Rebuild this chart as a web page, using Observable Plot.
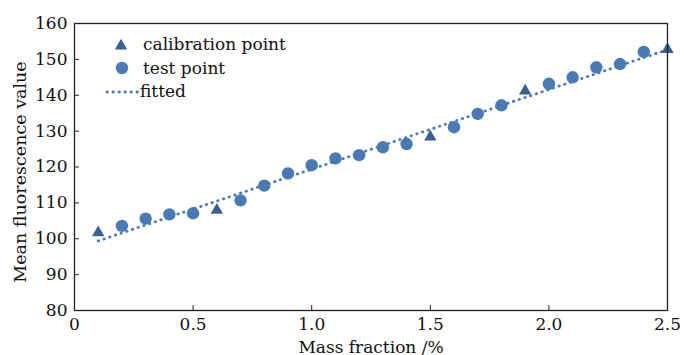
<!DOCTYPE html>
<html><head><meta charset="utf-8">
<script src="https://cdn.jsdelivr.net/npm/d3@7"></script>
<script src="https://cdn.jsdelivr.net/npm/@observablehq/plot@0.6"></script>
<style>
body{margin:0;background:#fff;}
#wrap{position:relative;width:684px;height:355px;font-family:"DejaVu Serif",serif;}
#legend{position:absolute;left:104px;top:33px;font-size:17px;color:#111;line-height:23.5px;}
#legend div{display:flex;align-items:center;height:23.5px;}
#legend svg{flex:none;}
</style></head>
<body><div id="wrap"><div id="legend"></div></div>
<script>
const calibX = [0.1, 0.6, 1.5, 1.9, 2.5];
const calibY = [101.7, 108.0, 128.4, 141.2, 152.8];
const testX = [0.2, 0.3, 0.4, 0.5, 0.7, 0.8, 0.9, 1.0, 1.1, 1.2, 1.3, 1.4, 1.6, 1.7, 1.8, 2.0, 2.1, 2.2, 2.3, 2.4];
const testY = [103.6, 105.6, 106.8, 107.1, 110.7, 114.8, 118.2, 120.5, 122.4, 123.3, 125.5, 126.4, 131.1, 134.8, 137.2, 143.2, 145.0, 147.8, 148.7, 152.1];
const fitX = [0.1, 2.5];
const fitY = [99.4, 152.7];
const xTicks = [0, 0.5, 1.0, 1.5, 2.0, 2.5];
const xTickLabels = ["0", "0.5", "1.0", "1.5", "2.0", "2.5"];
const yTicks = [80, 90, 100, 110, 120, 130, 140, 150, 160];
const legendLabels = ["calibration point", "test point", "fitted"];

const calib = calibX.map((x, i) => ({x, y: calibY[i]}));
const test = testX.map((x, i) => ({x, y: testY[i]}));
const fit = fitX.map((x, i) => ({x, y: fitY[i]}));

const cCircle = "#4a7ab4", cTri = "#3b6091", cLine = "#4a7ab8";
const dash = "0.4,5.6";

const chart = Plot.plot({
  width: 684, height: 355,
  marginLeft: 74, marginRight: 17, marginTop: 23, marginBottom: 45,
  style: {fontFamily: "'DejaVu Serif', serif", fontSize: "17px", color: "#111", background: "#fff"},
  x: {domain: [0, 2.5], ticks: xTicks, tickFormat: (d, i) => xTickLabels[i], label: null},
  y: {domain: [80, 160], ticks: yTicks, label: null},
  marks: [
    Plot.line(fit, {x: "x", y: "y", stroke: cLine, strokeWidth: 2.8, strokeDasharray: dash, strokeLinecap: "round"}),
    Plot.dot(test, {x: "x", y: "y", r: 6.2, fill: cCircle, stroke: null}),
    Plot.dot(calib, {x: "x", y: "y", symbol: "triangle", r: 4.6, fill: cTri, stroke: null}),
    Plot.frame({stroke: "#222", strokeWidth: 1.3}),
    Plot.axisX({ticks: xTicks, tickFormat: (d, i) => xTickLabels[i], tickSize: -5, tickPadding: 12, label: null, stroke: "#222"}),
    Plot.axisY({ticks: yTicks, tickSize: -5, tickPadding: 12, label: null, stroke: "#222"}),
    Plot.text(["Mass fraction /%"], {frameAnchor: "bottom", dy: 42, fontSize: 17, fill: "#111"}),
    Plot.text(["Mean fluorescence value"], {frameAnchor: "left", textAnchor: "middle", dx: -54, dy: 5, rotate: -90, fontSize: 17.5, fill: "#111"})
  ]
});
document.getElementById("wrap").prepend(chart);

const leg = d3.select("#legend");
const r0 = leg.append("div");
r0.append("svg").attr("width", 36).attr("height", 20).append("path")
  .attr("transform", "translate(17,11)").attr("d", d3.symbol(d3.symbolTriangle, Math.PI * 4.6 * 4.6)()).attr("fill", cTri);
r0.append("span").text(legendLabels[0]).style("margin-left", "3px");
const r1 = leg.append("div");
r1.append("svg").attr("width", 36).attr("height", 20).append("circle")
  .attr("cx", 18).attr("cy", 10).attr("r", 6.2).attr("fill", cCircle);
r1.append("span").text(legendLabels[1]).style("margin-left", "3px");
const r2 = leg.append("div");
r2.append("svg").attr("width", 36).attr("height", 20).append("line")
  .attr("x1", 3).attr("x2", 36).attr("y1", 10).attr("y2", 10)
  .attr("stroke", cLine).attr("stroke-width", 2.8).attr("stroke-dasharray", dash).attr("stroke-linecap", "round");
r2.append("span").text(legendLabels[2]);
</script></body></html>
